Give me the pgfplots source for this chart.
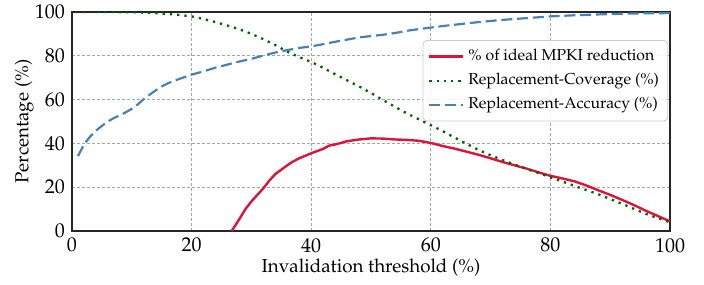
\documentclass[border=0pt]{standalone}
\usepackage[T1]{fontenc}
\usepackage{mathpazo}
\usepackage{pgfplots}
\pgfplotsset{compat=1.18}
\definecolor{cred}{RGB}{220,20,60}
\definecolor{cgreen}{RGB}{0,100,0}
\definecolor{cblue}{RGB}{70,130,180}
\begin{document}
\begin{tikzpicture}
\useasboundingbox (-36pt,-26.5pt) rectangle (316pt,115.5pt);
\begin{axis}[
  at={(0,0)}, anchor=south west,
  width=299pt, height=109.5pt, scale only axis,
  xmin=0, xmax=100, ymin=0, ymax=100,
  xtick={0,20,40,60,80,100}, ytick={0,20,40,60,80,100},
  major tick length=0pt,
  grid=major,
  major grid style={black!35, dash pattern=on 1.5pt off 1pt, line width=0.35pt},
  axis line style={black!85, line width=0.8pt},
  tick label style={font=\fontsize{10}{12}\selectfont},
  label style={font=\fontsize{9.4}{11}\selectfont},
  xlabel={Invalidation threshold (\%)},
  ylabel={Percentage (\%)},
  xlabel style={at={(axis description cs:0.5,-0.166)}, anchor=center},
  ylabel style={at={(axis description cs:-0.080,0.5)}, anchor=center},
  legend style={at={(axis description cs:0.997,0.872)}, anchor=north east,
    draw=black!20, rounded corners=2pt, fill=white, fill opacity=0.85, text opacity=1,
    font=\fontsize{7.9}{9.5}\selectfont, row sep=0.8pt, inner sep=2.5pt},
  legend cell align=left,
  legend image code/.code={\draw[#1] (0pt,0pt) -- (17pt,0pt);},
]
\addplot[cred, line width=1.2pt] coordinates {
(26.7,0) (28,5.5) (29,10) (30,13.5) (31,16.5) (32,19.5) (33,23) (34,26) (35,28)
(36,30) (37,31.8) (38,33.2) (40,35.5) (42,37.5) (43,39) (44,39.5) (46,41)
(48,41.8) (50,42.3) (52,42.2) (54,41.8) (56,41.6) (58,41.2) (60,40.2) (62,38.8)
(64,37.6) (66,36.2) (68,34.8) (70,33.2) (72,31.5) (74,30) (76,28.5) (78,26.8)
(80,25.2) (82,24) (84,22.7) (86,20.8) (88,18.6) (90,16.5) (92,14.2) (94,11.8)
(96,9.2) (98,6.8) (100,4.4)
};
\addlegendentry{\% of ideal MPKI reduction}
\addplot[cgreen, line width=1.15pt, dash pattern=on 1.15pt off 2.5pt] coordinates {
(0.5,100) (5,100) (10,99.9) (14,99.5) (17,98.9) (20,98) (22,96.8) (24,95.4)
(26,93.8) (28,92.1) (30,90) (32,87.6) (34,84.9) (36,81.9) (38,79.4) (40,77.2)
(42,74.5) (44,71.6) (46,68.8) (48,66) (50,63) (52,59.8) (54,56.7) (56,53.7)
(58,51) (60,48.3) (62,45.6) (64,42.6) (66,39.8) (68,37) (70,34.6) (72,32.4)
(74,30.3) (76,28.4) (78,26.5) (80,24.5) (82,22.6) (84,20.6) (86,18.7) (88,16.8)
(90,14.6) (92,12.4) (94,10.1) (96,7.8) (98,5.8) (100,4)
};
\addlegendentry{Replacement-Coverage (\%)}
\addplot[cblue, line width=1.1pt, dash pattern=on 5.5pt off 2.4pt] coordinates {
(1,34.2) (2,39.5) (3,43) (4,45.8) (5,48) (6,50) (7,51.6) (8,52.8) (9,54.2)
(10,55.8) (11,57.8) (12,60.2) (13,62.3) (14,64.2) (15,66) (16,67.4) (17,68.5)
(18,69.5) (20,71.4) (22,72.9) (24,74.6) (26,76) (28,77.4) (30,78.6) (32,80.1)
(34,81.5) (36,82.6) (38,83.6) (40,84.3) (42,85.3) (44,86.4) (46,87.4) (48,88.4)
(50,89) (52,89.6) (54,90.4) (56,91.4) (58,92.2) (60,92.9) (62,93.6) (64,94.2)
(66,94.8) (68,95.4) (70,95.9) (72,96.4) (74,96.8) (76,97.2) (78,97.6) (80,98)
(84,98.5) (88,98.9) (92,99.2) (96,99.4) (100,99.5)
};
\addlegendentry{Replacement-Accuracy (\%)}
\end{axis}
\end{tikzpicture}
\end{document}
